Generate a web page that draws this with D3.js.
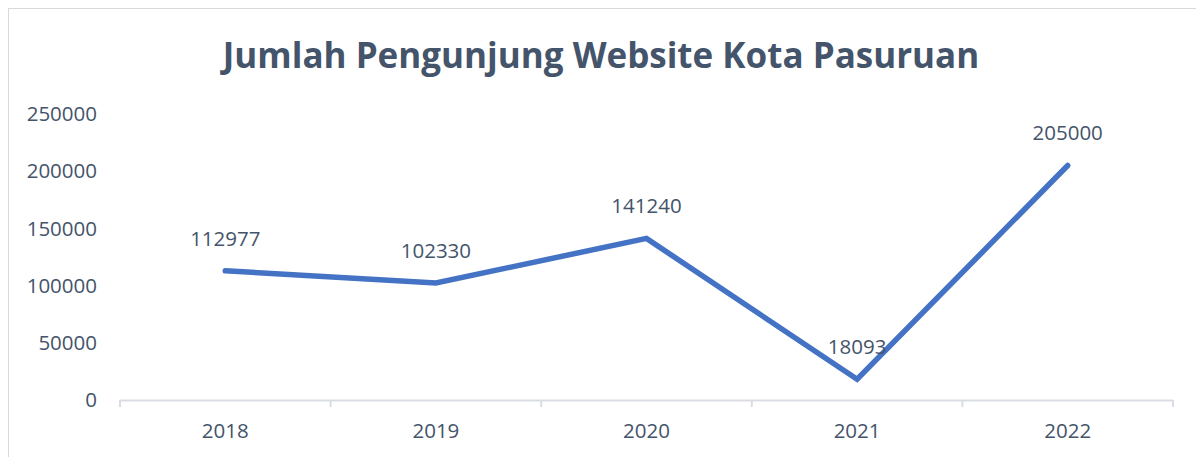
<!DOCTYPE html>
<html>
<head>
<meta charset="utf-8">
<script src="https://cdn.jsdelivr.net/npm/d3@7"></script>
<style>
  html, body { margin: 0; padding: 0; background: #fff; }
  svg { display: block; }
  text { font-family: "Open Sans", "Noto Sans", sans-serif; }
</style>
</head>
<body>
<script>
// Yearly visitor counts for the Kota Pasuruan website
const years = ["2018", "2019", "2020", "2021", "2022"];
const visitors = [112977, 102330, 141240, 18093, 205000];
const yTicks = [0, 50000, 100000, 150000, 200000, 250000];
const titleText = "Jumlah Pengunjung Website Kota Pasuruan";

const W = 1196, H = 457;
const margin = { left: 120, right: 23, top: 114, bottom: 57 };

const svg = d3.select("body").append("svg")
  .attr("width", W).attr("height", H);

// chart frame
svg.append("rect")
  .attr("x", 8.5).attr("y", 8.5)
  .attr("width", W + 20).attr("height", H + 20)
  .attr("fill", "#fff").attr("stroke", "#d9d9d9").attr("stroke-width", 1);

const x = d3.scaleBand().domain(years)
  .range([margin.left, W - margin.right]).paddingInner(0).paddingOuter(0);
const y = d3.scaleLinear().domain([0, 250000])
  .range([H - margin.bottom, margin.top]);

const textColor = "#44546a";

// title
svg.append("text")
  .attr("x", 601).attr("y", 68)
  .attr("text-anchor", "middle")
  .attr("font-size", 35).attr("font-weight", 700)
  .attr("fill", textColor)
  .text(titleText);

// y axis labels (no axis line)
svg.append("g").selectAll("text").data(yTicks).join("text")
  .attr("x", 97).attr("y", d => y(d))
  .attr("dy", "0.35em")
  .attr("text-anchor", "end")
  .attr("font-size", 20.5)
  .attr("fill", textColor)
  .text(d => d);

// x axis with tick marks at category boundaries
const xAxisY = y(0);
const xg = svg.append("g");
xg.append("line")
  .attr("x1", x.range()[0]).attr("x2", x.range()[1])
  .attr("y1", xAxisY + 0.5).attr("y2", xAxisY + 0.5)
  .attr("stroke", "#d9dde3").attr("stroke-width", 2);
const bounds = years.map(d => x(d)).concat([x.range()[1]]);
xg.selectAll("line.tick").data(bounds).join("line")
  .attr("class", "tick")
  .attr("x1", d => d).attr("x2", d => d)
  .attr("y1", xAxisY).attr("y2", xAxisY + 7)
  .attr("stroke", "#d9dde3").attr("stroke-width", 2);
xg.selectAll("text").data(years).join("text")
  .attr("x", d => x(d) + x.bandwidth() / 2)
  .attr("y", 438)
  .attr("text-anchor", "middle")
  .attr("font-size", 20.5)
  .attr("fill", textColor)
  .text(d => d);

// line series
const pts = years.map((d, i) => ({ year: d, value: visitors[i] }));
const line = d3.line()
  .x(d => x(d.year) + x.bandwidth() / 2)
  .y(d => y(d.value));
svg.append("path")
  .datum(pts)
  .attr("d", line)
  .attr("fill", "none")
  .attr("stroke", "#4472c4")
  .attr("stroke-width", 5.5)
  .attr("stroke-linecap", "round")
  .attr("stroke-linejoin", "miter");

// value labels above each point
svg.append("g").selectAll("text").data(pts).join("text")
  .attr("x", d => x(d.year) + x.bandwidth() / 2)
  .attr("y", d => y(d.value) - 25)
  .attr("text-anchor", "middle")
  .attr("font-size", 20.5)
  .attr("fill", textColor)
  .text(d => d.value);
</script>
</body>
</html>
